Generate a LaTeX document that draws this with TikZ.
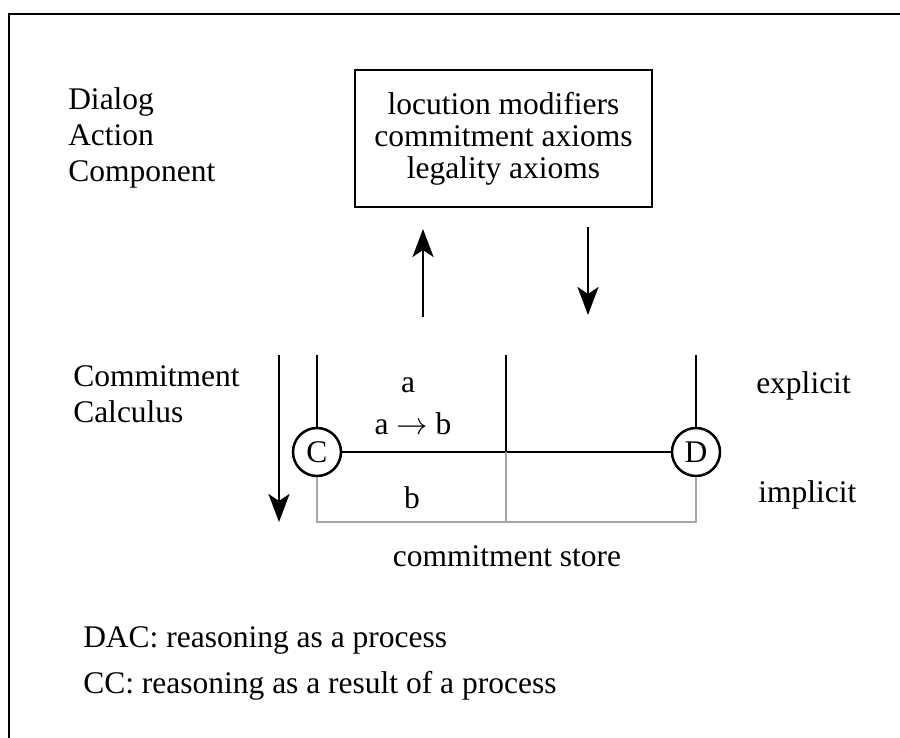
\RequirePackage{fix-cm}
\documentclass[tikz,border=0pt]{standalone}
\usepackage{fontspec}
\setmainfont{Liberation Serif}
\usetikzlibrary{arrows.meta}
\definecolor{storegray}{RGB}{166,166,166}
\begin{document}
\begin{tikzpicture}[x=1pt,y=-1pt,line width=2.5pt,
  txt/.style={font=\fontsize{31.5}{36}\selectfont,inner sep=0pt},
  boxtxt/.style={font=\fontsize{31.5}{32}\selectfont,align=center,draw,minimum width=297pt,minimum height=137pt,inner sep=0pt},
  agent/.style={circle,draw,minimum size=48pt,inner sep=0pt,font=\fontsize{31.5}{36}\selectfont},
  flow/.style={-{Stealth[length=28pt,width=21pt,inset=7pt]}},
  store/.style={draw=storegray}]
\useasboundingbox (0,0) rectangle (900,738);
% frame
\coordinate (fr1) at (900,14);
\coordinate (fr2) at (9,14);
\coordinate (fr3) at (9,738);
\draw (fr1) -- (fr2) -- (fr3);
% labels left
\node[txt,anchor=base west] (dac1) at (67,110) {Dialog};
\node[txt,anchor=base west] (dac2) at (67,146) {Action};
\node[txt,anchor=base west] (dac3) at (67,182) {Component};
\node[txt,anchor=base west] (cc1) at (72,386) {Commitment};
\node[txt,anchor=base west] (cc2) at (72,422) {Calculus};
% box
\node[boxtxt] (box) at (503.5,138.5) {locution modifiers\\commitment axioms\\legality axioms};
% arrows
\coordinate (up1) at (423,317); \coordinate (up2) at (423,229);
\coordinate (dn1) at (588,227); \coordinate (dn2) at (588,315);
\coordinate (lg1) at (279,355); \coordinate (lg2) at (279,522);
\draw[flow] (up1) -- (up2);
\draw[flow] (dn1) -- (dn2);
\draw[flow] (lg1) -- (lg2);
% agents
\node[agent] (C) at (317,452) {C};
\node[agent] (D) at (696,452) {D};
\coordinate (ctop) at (317,355);
\coordinate (dtop) at (696,355);
\coordinate (mtop) at (506,355);
\coordinate (mmid) at (506,452);
\coordinate (mbot) at (506,522);
\draw (ctop) -- (C.north);
\draw (dtop) -- (D.north);
\draw (mtop) -- (mmid);
\draw (C.east) -- (D.west);
\draw[store] (C.south) -- (C.south |- mbot) -- (D.south |- mbot) -- (D.south);
\draw[store] (mmid) -- (mbot);
% store contents
\node[txt,anchor=base] (la) at (408,392) {a};
\node[txt,anchor=base] (lab) at (413,434) {a $\rightarrow$ b};
\node[txt,anchor=base] (lb) at (412,508) {b};
\node[txt,anchor=base west] (lexp) at (755,393) {explicit};
\node[txt,anchor=base west] (limp) at (757,502) {implicit};
\node[txt,anchor=base] (lstore) at (507,566) {commitment store};
\node[txt,anchor=base west] (n1) at (82,647) {DAC: reasoning as a process};
\node[txt,anchor=base west] (n2) at (82,693) {CC: reasoning as a result of a process};
\end{tikzpicture}
\end{document}
